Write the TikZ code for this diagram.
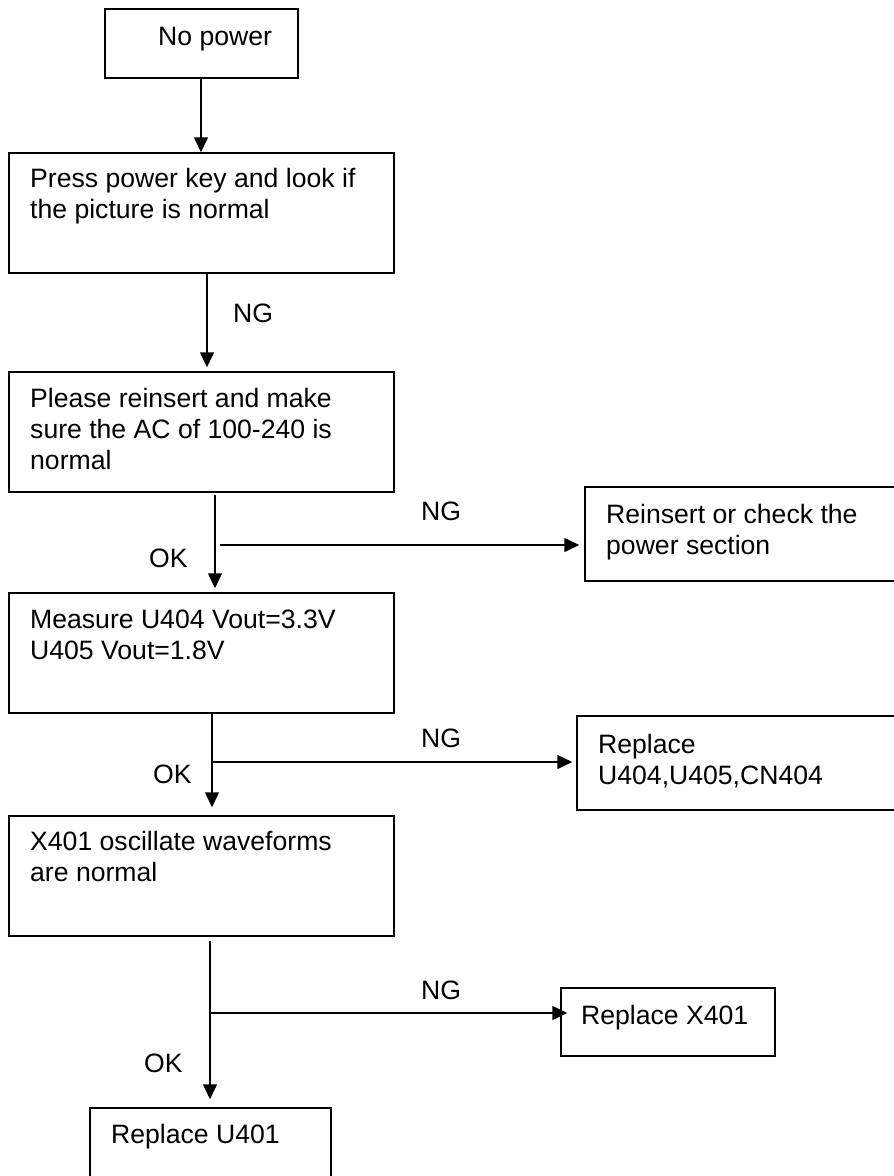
\documentclass[tikz,border=0pt]{standalone}
\usepackage{fontspec}
\setmainfont{Liberation Sans}
\usetikzlibrary{arrows.meta,calc}
\tikzset{
  box/.style={draw, line width=1.5pt, inner sep=0pt, rectangle},
  txt/.style={anchor=base west, inner sep=0pt, font=\fontsize{26.6}{31}\selectfont},
  conn/.style={line width=1.5pt, -{Triangle[length=15pt,width=14pt]}},
}
\newcommand{\ml}[1]{\parbox[t]{420pt}{\raggedright #1}}
\begin{document}
\begin{tikzpicture}[x=1pt,y=-1pt]
\clip (0,0) rectangle (894,1176);
\fill[white] (0,0) rectangle (894,1176);
% boxes
\node[box, minimum width=193pt, minimum height=69pt]  (b1) at (201.5,43.5) {};
\node[box, minimum width=385pt, minimum height=120pt] (b2) at (201.5,213) {};
\node[box, minimum width=385pt, minimum height=120pt] (b3) at (201.5,432) {};
\node[box, minimum width=320pt, minimum height=94pt]  (r1) at (745,534) {};
\node[box, minimum width=385pt, minimum height=120pt] (b4) at (201.5,653) {};
\node[box, minimum width=328pt, minimum height=94pt]  (r2) at (741,763) {};
\node[box, minimum width=385pt, minimum height=120pt] (b5) at (201.5,876) {};
\node[box, minimum width=214pt, minimum height=68pt]  (r3) at (668,1022) {};
\node[box, minimum width=241pt, minimum height=92pt]  (b6) at (210.5,1154) {};
% texts
\node[txt] (t1) at (158,45) {No power};
\node[txt] (t2) at (30,187) {\ml{Press power key and look if\\the picture is normal}};
\node[txt] (t3) at (30,407) {\ml{Please reinsert and make\\sure the AC of 100-240 is\\normal}};
\node[txt] (tr1) at (606,523) {\ml{Reinsert or check the\\power section}};
\node[txt] (t4) at (30,628) {\ml{Measure U404 Vout=3.3V\\U405 Vout=1.8V}};
\node[txt] (tr2) at (598,753) {\ml{Replace\\U404,U405,CN404}};
\node[txt] (t5) at (30,850) {\ml{X401 oscillate waveforms\\are normal}};
\node[txt] (tr3) at (581,1024) {Replace X401};
\node[txt] (t6) at (111,1143) {Replace U401};
% labels
\node[txt] (l1) at (233,322) {NG};
\node[txt] (l2) at (421,520) {NG};
\node[txt] (l3) at (149,567) {OK};
\node[txt] (l4) at (421,747) {NG};
\node[txt] (l5) at (153,783) {OK};
\node[txt] (l6) at (421,999) {NG};
\node[txt] (l7) at (144,1072) {OK};
% connector x positions
\coordinate (x1) at (201,0);
\coordinate (x2) at (207,0);
\coordinate (x3) at (215,0);
\coordinate (x4) at (212,0);
\coordinate (x5) at (210,0);
% vertical connectors
\draw[conn] (b1.south -| x1) -- (b2.north -| x1);
\draw[conn, shorten >=4pt] (b2.south -| x2) -- (b3.north -| x2);
\draw[conn, shorten <=2pt, shorten >=4pt] (b3.south -| x3) -- (b4.north -| x3);
\draw[conn, shorten >=8pt] (b4.south -| x4) -- (b5.north -| x4);
\draw[conn, shorten <=4pt, shorten >=8pt] (b5.south -| x5) -- (b6.north -| x5);
% branches
\coordinate (j3) at (220,545);
\coordinate (j4) at (212,762);
\coordinate (j5) at (210,1013);
\draw[conn, shorten >=5pt] (j3) -- (j3 -| r1.west);
\draw[conn, shorten >=4pt] (j4) -- (j4 -| r2.west);
\draw[conn, shorten >=-7pt] (j5) -- (j5 -| r3.west);
\end{tikzpicture}
\end{document}
